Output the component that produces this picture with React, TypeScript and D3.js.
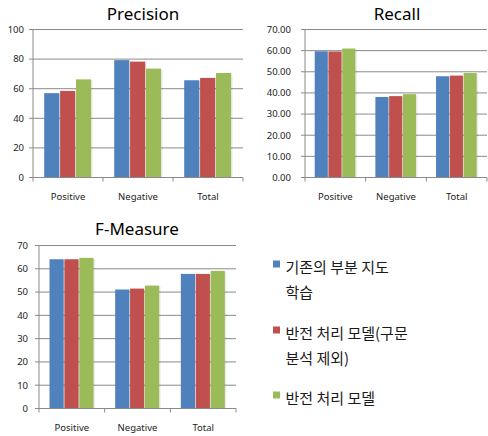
import * as React from 'react'
import { useEffect, useRef } from 'react'
import * as d3 from 'd3'

// categories + series
const categories = ['Positive', 'Negative', 'Total']
const seriesNames = ['기존의 부분 지도 학습', '반전 처리 모델(구문 분석 제외)', '반전 처리 모델']
const seriesColors = ['#4F81BD', '#C0504D', '#9BBB59']

// values per category, series order: 기존, 반전(구문 제외), 반전
const precisionValues = [
  [57.0, 58.5, 66.3],
  [79.3, 78.3, 73.6],
  [65.7, 67.3, 70.6],
]
const recallValues = [
  [59.7, 59.6, 61.0],
  [38.1, 38.5, 39.4],
  [47.9, 48.2, 49.4],
]
const fMeasureValues = [
  [64.1, 64.1, 64.7],
  [51.1, 51.5, 52.8],
  [57.8, 57.8, 59.1],
]

const precisionTicks = [0, 20, 40, 60, 80, 100]
const recallTicks = [0, 10, 20, 30, 40, 50, 60, 70]
const fMeasureTicks = [0, 10, 20, 30, 40, 50, 60, 70]

const legendLines = [
  ['기존의 부분 지도', '학습'],
  ['반전 처리 모델(구문', '분석 제외)'],
  ['반전 처리 모델'],
]

const FONT = "'Noto Sans', 'Noto Sans CJK KR', sans-serif"
const GRID = '#8a8a8a'

const App = () => {
  const chartRef = useRef<SVGSVGElement>(null)

  useEffect(() => {
    const svg = d3.select(chartRef.current)
    svg.selectAll('*').remove()

    const panels = [
      { title: 'Precision', values: precisionValues, ticks: precisionTicks, fmt: (d: number) => `${d}`,
        x0: 33, x1: 243, yTop: 29.5, yBot: 177.5, labelGap: 9, titleX: 143, titleY: 20, catY: 200 },
      { title: 'Recall', values: recallValues, ticks: recallTicks, fmt: (d: number) => d.toFixed(2),
        x0: 305, x1: 487, yTop: 29.5, yBot: 177.5, labelGap: 14, titleX: 397, titleY: 20, catY: 200 },
      { title: 'F-Measure', values: fMeasureValues, ticks: fMeasureTicks, fmt: (d: number) => `${d}`,
        x0: 39, x1: 236, yTop: 245.5, yBot: 408.5, labelGap: 11, titleX: 137, titleY: 235, catY: 431 },
    ]

    panels.forEach((p) => {
      const g = svg.append('g')
      const yScale = d3.scaleLinear()
        .domain([0, d3.max(p.ticks) as number])
        .range([p.yBot, p.yTop])
      const xBand = d3.scaleBand<string>()
        .domain(categories)
        .range([p.x0, p.x1])
      const bw = xBand.bandwidth()
      const xSeries = d3.scaleBand<number>()
        .domain([0, 1, 2])
        .range([bw * 0.16, bw * 0.83])
        .paddingInner(0.05)

      // gridlines
      g.selectAll('line.grid')
        .data(p.ticks.filter((t) => t > 0))
        .enter()
        .append('line')
        .attr('x1', p.x0 - 4)
        .attr('x2', p.x1)
        .attr('y1', (d) => yScale(d))
        .attr('y2', (d) => yScale(d))
        .attr('stroke', GRID)
        .attr('stroke-width', 1)

      // y tick labels
      g.selectAll('text.ytick')
        .data(p.ticks)
        .enter()
        .append('text')
        .attr('x', p.x0 - p.labelGap)
        .attr('y', (d) => yScale(d))
        .attr('dy', '0.35em')
        .attr('text-anchor', 'end')
        .style('font-family', FONT)
        .style('font-size', '9.5px')
        .attr('fill', '#222')
        .text((d) => p.fmt(d))

      // bars
      p.values.forEach((vals, ci) => {
        const cx = xBand(categories[ci]) as number
        vals.forEach((v, si) => {
          const x = cx + (xSeries(si) as number)
          g.append('rect')
            .attr('x', x + 1.5)
            .attr('y', yScale(v) + 1)
            .attr('width', xSeries.bandwidth())
            .attr('height', p.yBot - yScale(v) - 1)
            .attr('fill', '#000')
            .attr('opacity', 0.08)
          g.append('rect')
            .attr('x', x)
            .attr('y', yScale(v))
            .attr('width', xSeries.bandwidth())
            .attr('height', p.yBot - yScale(v))
            .attr('fill', seriesColors[si])
        })
      })

      // axes
      g.append('line')
        .attr('x1', p.x0).attr('x2', p.x0)
        .attr('y1', p.yTop).attr('y2', p.yBot)
        .attr('stroke', GRID)
      g.append('line')
        .attr('x1', p.x0 - 4).attr('x2', p.x1)
        .attr('y1', p.yBot).attr('y2', p.yBot)
        .attr('stroke', GRID)
      const edges = categories.map((c) => xBand(c) as number).concat([p.x1])
      g.selectAll('line.xtick')
        .data(edges)
        .enter()
        .append('line')
        .attr('x1', (d) => d).attr('x2', (d) => d)
        .attr('y1', p.yBot).attr('y2', p.yBot + 4)
        .attr('stroke', GRID)

      g.selectAll('text.cat')
        .data(categories)
        .enter()
        .append('text')
        .attr('x', (d) => (xBand(d) as number) + bw / 2)
        .attr('y', p.catY)
        .attr('text-anchor', 'middle')
        .style('font-family', FONT)
        .style('font-size', '9.5px')
        .attr('fill', '#222')
        .text((d) => d)

      g.append('text')
        .attr('x', p.titleX)
        .attr('y', p.titleY)
        .attr('text-anchor', 'middle')
        .style('font-family', FONT)
        .style('font-size', '17px')
        .attr('fill', '#000')
        .text(p.title)
    })

    // legend
    const legendTops = [260.5, 326.5, 391.5]
    const legend = svg.append('g')
    seriesNames.forEach((name, i) => {
      legend.append('rect')
        .attr('x', 273)
        .attr('y', legendTops[i])
        .attr('width', 7)
        .attr('height', 7)
        .attr('fill', seriesColors[i])
      legendLines[i].forEach((line, li) => {
        legend.append('text')
          .attr('x', 285.5)
          .attr('y', legendTops[i] + 12.5 + li * 24.5)
          .style('font-family', "'Noto Sans CJK KR', sans-serif")
          .style('font-size', '15px')
          .attr('fill', '#1a1a1a')
          .text(line)
      })
    })
  }, [])

  return (
    <svg
      ref={chartRef}
      width={488}
      height={436}
      style={{ position: 'absolute', left: 0, top: 0, background: '#fff' }}
    ></svg>
  )
}

export default App
